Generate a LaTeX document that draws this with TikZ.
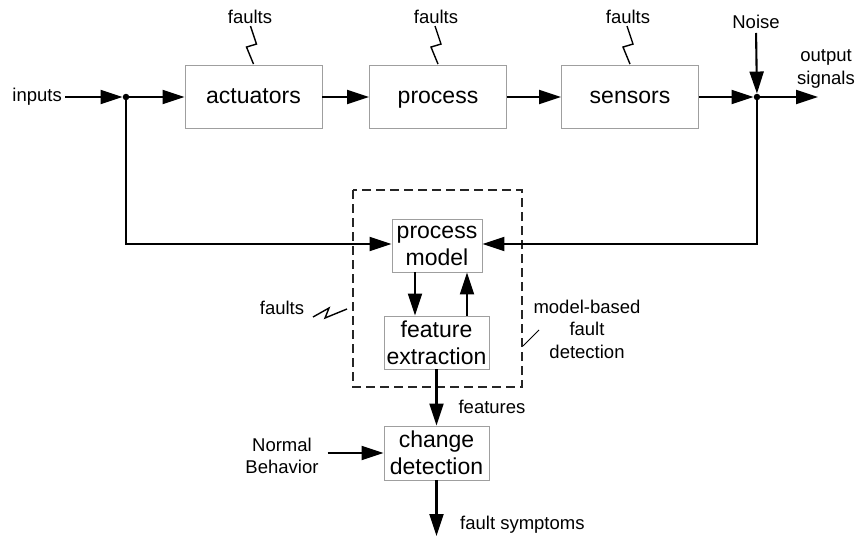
\documentclass[tikz,border=0pt]{standalone}
\usepackage{fontspec}
\setmainfont{Liberation Sans}
\usetikzlibrary{arrows.meta,calc}
\begin{document}
\begin{tikzpicture}[x=1pt,y=-1pt,
  box/.style={draw=gray!75, line width=0.9pt, align=center, inner sep=1pt,
    font=\fontsize{23}{27}\selectfont},
  onebox/.style={box, minimum width=137pt, minimum height=63pt,
    text height=17pt, text depth=5pt},
  lbl/.style={align=center, inner sep=0pt, font=\fontsize{18.5}{22.5}\selectfont},
  flow/.style={line width=2.1pt, -{Triangle[length=22pt,width=14pt]}},
  dot/.style={circle, fill, inner sep=0pt, minimum size=6.5pt},
  zig/.style={line width=1.4pt, line join=miter},
  bolt/.pic={\draw[zig] (-3,-39) -- (3,-21) -- (-7,-18) -- (0,-1);}]
\useasboundingbox (0,0) rectangle (859,538);

% plant chain
\node[onebox] (act) at (253.5,97) {actuators};
\node[onebox] (proc) at (438,97) {process};
\node[onebox] (sens) at (630,97) {sensors};
\node[dot] (jl) at (126,97) {};
\node[dot] (jr) at (757,97) {};
\coordinate (out) at (818,97);

\node[lbl, anchor=east] (inp) at (62,97) {inputs};
\node[lbl] (noise) at (756,22) {Noise};
\node[lbl] (outlbl) at (826,69) {output\\signals};

% fault inputs on the plant
\node[lbl] (f1) at (250,17) {faults};
\node[lbl] (f2) at (436,17) {faults};
\node[lbl] (f3) at (628,17) {faults};
\pic at (act.north) {bolt};
\pic at (proc.north) {bolt};
\pic at (sens.north) {bolt};

% model-based detection
\draw[black!85, line width=1.2pt, dash pattern=on 9pt off 5pt] (353,190) rectangle (522,387);
\node[box, minimum width=90pt, minimum height=53pt] (pm) at (437,245.5) {process\\model};
\node[box, minimum width=105pt, minimum height=53pt] (fe) at (436.5,342.5) {feature\\extraction};
\node[box, minimum width=105pt, minimum height=54pt] (cd) at (436.5,453) {change\\detection};
\coordinate (cdout) at (436.5,536);

\node[lbl] (f4) at (282,308) {faults};
\draw[zig] (313,317) -- (329,308) -- (325,318) -- (347,309);
\node[lbl] (mbfd) at (587,329) {model-based\\fault\\detection};
\draw[line width=1pt] (539,330) -- (523,346);

\node[lbl] (feat) at (492,407) {features};
\node[lbl] (normal) at (282,456) {Normal\\Behavior};
\node[lbl, anchor=west] (symp) at (460,525) {fault symptoms};

% connectors
\draw[flow, shorten <=3pt] (inp.east) -- (jl);
\draw[flow] (jl) -- (act);
\draw[flow] (act) -- (proc);
\draw[flow] (proc) -- (sens);
\draw[flow] (sens) -- (jr);
\draw[flow] (jr) -- (out);
\draw[flow, shorten <=4pt] (noise.south) -- (jr);
\draw[flow] (jl.center) |- ([yshift=1.5pt]pm.west);
\draw[flow] (jr.center) |- ([yshift=1.5pt]pm.east);
\draw[flow] ([xshift=-22pt]pm.south) -- ([xshift=-22pt]pm.south |- fe.north);
\draw[flow] ([xshift=30.5pt]fe.north) -- ([xshift=30.5pt]fe.north |- pm.south);
\draw[flow] (fe) -- (cd);
\draw[flow] ([xshift=9pt]normal.east |- cd.west) -- (cd.west);
\draw[flow] (cd) -- (cdout);
\end{tikzpicture}
\end{document}
